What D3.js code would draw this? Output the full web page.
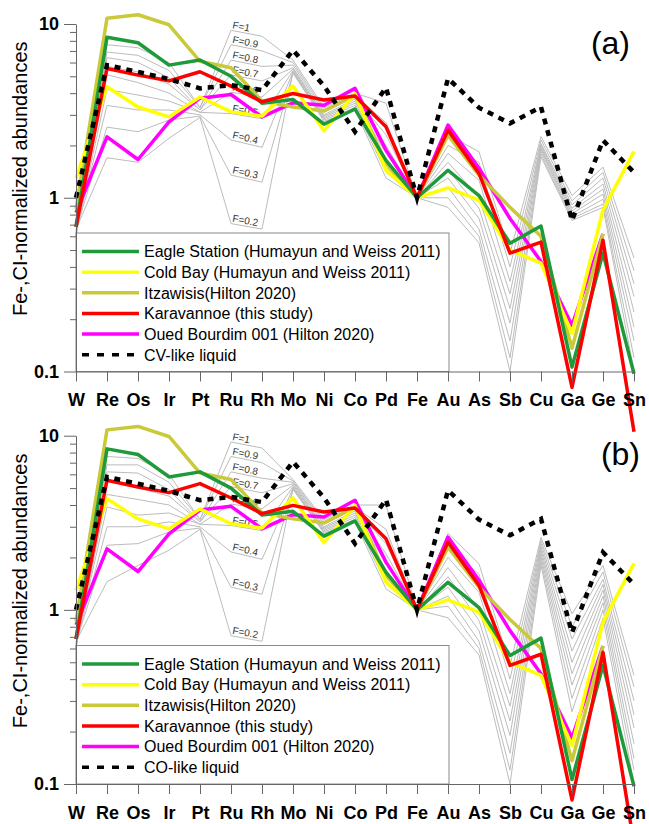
<!DOCTYPE html>
<html><head><meta charset="utf-8">
<script src="https://cdn.jsdelivr.net/npm/d3@7"></script>
<style>
body{margin:0;background:#fff}
svg{display:block}
text{font-family:"Liberation Sans",Arial,sans-serif}
</style>
</head><body>
<svg id="c" width="649" height="824"></svg>
<script>
// ---------- DATA ----------
const elements = ["W","Re","Os","Ir","Pt","Ru","Rh","Mo","Ni","Co","Pd","Fe","Au","As","Sb","Cu","Ga","Ge","Sn"];
const yMajorTicks = [0.1, 1, 10];
const yMinorTicks = [0.2,0.3,0.4,0.5,0.6,0.7,0.8,0.9,2,3,4,5,6,7,8,9];
const fLabels = ["F=1","F=0.9","F=0.8","F=0.7","F=0.6","F=0.5","F=0.4","F=0.3","F=0.2"];

const seriesNames = ["Eagle Station (Humayun and Weiss 2011)","Cold Bay (Humayun and Weiss 2011)","Itzawisis(Hilton 2020)","Karavannoe (this study)","Oued Bourdim 001 (Hilton 2020)"];
const seriesColors = ["#1e9a3a","#ffff00","#c9c93a","#ff0000","#ff00ff"];

const eagleStation = [0.68, 8.4, 7.8, 5.8, 6.2, 5.0, 3.5, 3.68, 2.65, 3.24, 1.64, 1, 1.44, 1.03, 0.547, 0.688, 0.106, 0.48, 0.097];
const coldBay      = [1.29, 4.35, 3.33, 2.92, 3.8, 3.12, 2.95, 4.39, 2.43, 3.98, 1.44, 1, 1.14, 0.97, 0.5, 0.42, 0.166, 0.85, 1.85];
const itzawisis    = [0.86, 10.8, 11.3, 9.9, 6.1, 5.6, 3.6, 3.33, 3.16, 3.9, 1.58, 1, 2.29, 1.35, 0.88, 0.6, 0.136, 0.62, null];
const karavannoe   = [0.68, 5.55, 5.08, 4.71, 5.31, 4.39, 3.57, 3.98, 3.65, 3.85, 2.56, 1, 2.45, 1.38, 0.48, 0.556, 0.081, 0.57, 0.045];
const ouedBourdim  = [0.82, 2.24, 1.66, 2.73, 3.74, 3.93, 2.92, 3.52, 3.41, 4.26, 1.88, 1, 2.62, 1.48, 0.76, 0.43, 0.184, 0.62, null];
const liquidCV     = [1.0, 5.8, 5.3, 4.82, 4.26, 4.45, 4.16, 7.08, 4.4, 2.4, 4.3, 1.0, 4.86, 3.3, 2.68, 3.33, 0.74, 2.14, 1.4];
const liquidCO     = [1.0, 5.8, 5.3, 4.82, 4.26, 4.45, 4.16, 7.08, 4.4, 2.4, 4.3, 1.0, 4.86, 3.3, 2.68, 3.33, 0.74, 2.14, 1.4];

// fractional-crystallisation model curves (F=1 ... F=0.2), panel (a)
const modelA = [
  [0.60,7.6,7.3,6.0,3.3,9.2,8.5,6.2,3.3,4.0,3.5,1,2.3,1.84,0.48,2.25,1.03,1.5,0.45],
  [0.60,6.9,6.6,5.4,3.3,7.6,7.0,6.0,3.2,3.9,2.7,1,2.0,1.6,0.40,2.15,0.96,1.4,0.38],
  [0.61,6.4,6.0,4.9,3.2,6.2,5.7,5.8,3.1,3.8,2.3,1,1.8,1.26,0.33,2.05,0.91,1.3,0.32],
  [0.62,5.7,5.3,4.5,3.2,5.1,4.7,5.6,3.0,3.7,2.0,1,1.6,1.0,0.28,2.0,0.87,1.2,0.27],
  [0.62,5.1,4.6,4.0,3.1,4.05,3.8,5.5,2.95,3.6,1.8,1,1.45,0.87,0.23,1.95,0.84,1.12,0.22],
  [0.63,4.2,3.9,3.6,3.1,3.05,2.85,5.4,2.9,3.5,1.65,1,1.3,0.76,0.19,1.9,0.81,1.05,0.18],
  [0.64,3.4,3.2,3.2,3.0,2.15,1.95,5.3,2.85,3.4,1.5,1,1.15,0.66,0.15,1.85,0.78,0.98,0.15],
  [0.65,2.55,2.4,2.8,2.95,1.35,1.23,5.2,2.8,3.3,1.4,1,1.0,0.6,0.12,1.78,0.76,0.92,0.12],
  [0.66,1.7,1.6,2.2,2.9,0.71,0.66,5.3,2.75,3.2,1.3,1,0.88,0.55,0.10,1.72,0.74,0.88,0.10]
];
// panel (b)
const modelB = [
  [0.60,7.6,7.4,6.0,3.3,9.2,8.5,5.6,3.3,4.0,4.0,1,2.75,1.84,0.48,2.6,0.95,1.8,0.42],
  [0.60,6.8,6.8,5.4,3.3,7.6,7.0,5.5,3.2,3.9,2.9,1,2.3,1.6,0.40,2.5,0.80,1.65,0.36],
  [0.61,6.2,6.1,4.9,3.2,6.2,5.7,5.4,3.1,3.8,2.4,1,2.0,1.26,0.33,2.4,0.68,1.5,0.30],
  [0.62,5.5,5.0,4.5,3.2,5.1,4.7,5.3,3.0,3.7,2.1,1,1.75,1.0,0.28,2.3,0.58,1.4,0.25],
  [0.62,4.6,4.3,4.0,3.1,4.05,3.8,5.2,2.95,3.6,1.85,1,1.55,0.87,0.23,2.2,0.50,1.3,0.21],
  [0.63,3.9,3.5,3.6,3.1,3.05,2.85,5.1,2.9,3.5,1.7,1,1.35,0.76,0.19,2.1,0.43,1.2,0.17],
  [0.64,3.0,3.0,3.2,3.0,2.15,1.95,5.0,2.85,3.4,1.55,1,1.2,0.66,0.15,2.0,0.37,1.1,0.14],
  [0.65,2.35,2.4,2.8,2.95,1.35,1.23,4.9,2.8,3.3,1.42,1,1.05,0.6,0.12,1.9,0.31,1.0,0.12],
  [0.66,1.45,1.8,2.2,2.9,0.71,0.66,5.0,2.75,3.2,1.32,1,0.9,0.55,0.10,1.8,0.26,0.9,0.10]
];

// ---------- DRAW ----------
const svg = d3.select("#c");
const x = d3.scalePoint().domain(elements).range([76, 634]);
const samples = [eagleStation, coldBay, itzawisis, karavannoe, ouedBourdim];
const drawOrder = [4, 2, 1, 0, 3];

function panel(cfg) {
  const y = d3.scaleLog().domain([0.1, 10]).range([cfg.bottom, cfg.top]);
  const g = svg.append("g");
  const line = d3.line().defined(d => d != null).x((d, i) => x(elements[i])).y(d => y(d));

  // model curves
  cfg.model.forEach(row => {
    g.append("path").attr("d", line(row)).attr("fill", "none")
      .attr("stroke", "#bcbcbc").attr("stroke-width", 1);
  });
  // F labels along Ru-Rh segment
  cfg.model.forEach((row, k) => {
    const x1 = x("Ru"), y1 = y(row[5]), x2 = x("Rh"), y2 = y(row[6]);
    const ang = Math.atan2(y2 - y1, x2 - x1) * 180 / Math.PI;
    g.append("text").attr("transform", `translate(${x1 + 1},${y1 - 2}) rotate(${ang})`)
      .attr("font-size", 10).attr("fill", "#333").text(fLabels[k]);
  });

  // samples
  drawOrder.forEach(si => {
    g.append("path").attr("d", line(samples[si])).attr("fill", "none")
      .attr("stroke", seriesColors[si]).attr("stroke-width", 3.5)
      .attr("stroke-linejoin", "round");
  });
  // liquid
  g.append("path").attr("d", line(cfg.liquid)).attr("fill", "none")
    .attr("stroke", "#000").attr("stroke-width", 4.5).attr("stroke-dasharray", "6,6");

  // legend
  const lg = g.append("g");
  lg.append("rect").attr("x", 76).attr("y", cfg.bottom - 138.5).attr("width", 373).attr("height", 138.5)
    .attr("fill", "#fff").attr("stroke", "#8a8a8a").attr("stroke-width", 1);
  const ly0 = cfg.bottom - 120;
  seriesNames.forEach((name, i) => {
    const yy = ly0 + i * 20.65;
    lg.append("line").attr("x1", 82).attr("x2", 139).attr("y1", yy).attr("y2", yy)
      .attr("stroke", seriesColors[i]).attr("stroke-width", 3.5);
    lg.append("text").attr("x", 144).attr("y", yy).attr("dy", "0.36em").attr("font-size", 16).text(name);
  });
  const yy = ly0 + 5 * 20.65;
  lg.append("line").attr("x1", 82).attr("x2", 139).attr("y1", yy).attr("y2", yy)
    .attr("stroke", "#000").attr("stroke-width", 3.5).attr("stroke-dasharray", "7,8");
  lg.append("text").attr("x", 144).attr("y", yy).attr("dy", "0.36em").attr("font-size", 16).text(cfg.liquidName);

  // axes
  const ax = g.append("g").attr("transform", `translate(0,${cfg.bottom})`)
    .call(d3.axisBottom(x).tickSize(10).tickSizeOuter(0).tickPadding(12));
  ax.selectAll("text").attr("font-size", 18).attr("font-weight", "bold").attr("fill", "#000")
    .attr("font-family", '"Liberation Sans",Arial,sans-serif');
  ax.selectAll("path,line").attr("stroke", "#666");

  const ayMinor = g.append("g").attr("transform", "translate(76,0)")
    .call(d3.axisLeft(y).tickValues(yMinorTicks).tickSize(6).tickSizeOuter(0).tickFormat(""));
  ayMinor.select(".domain").remove();
  ayMinor.selectAll("line").attr("stroke", "#666");
  const ay = g.append("g").attr("transform", "translate(76,0)")
    .call(d3.axisLeft(y).tickValues(yMajorTicks).tickSize(12).tickSizeOuter(0).tickPadding(5)
      .tickFormat(d => d === 0.1 ? "0.1" : String(d)));
  ay.selectAll("text").attr("font-size", 18).attr("font-weight", "bold").attr("fill", "#000")
    .attr("font-family", '"Liberation Sans",Arial,sans-serif');
  ay.selectAll("path,line").attr("stroke", "#666");

  // titles
  g.append("text").attr("transform", `translate(27,${(cfg.top + cfg.bottom) / 2 - 19}) rotate(-90)`)
    .attr("text-anchor", "middle").attr("font-size", 20).text("Fe-,CI-normalized abundances");
  g.append("text").attr("x", cfg.labelX).attr("y", cfg.top + 29.5).attr("text-anchor", "end")
    .attr("font-size", 32).text(cfg.label);
}

panel({top: 24, bottom: 371.5, model: modelA, liquid: liquidCV, liquidName: "CV-like liquid", label: "(a)", labelX: 630});
panel({top: 435.7, bottom: 784, model: modelB, liquid: liquidCO, liquidName: "CO-like liquid", label: "(b)", labelX: 640});
</script>
</body></html>
